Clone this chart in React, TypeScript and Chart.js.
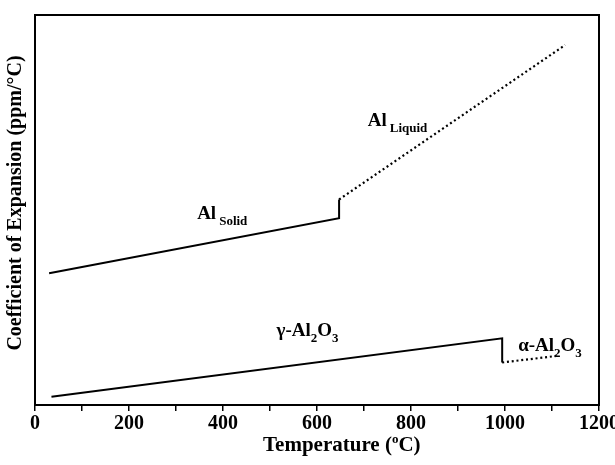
import React, { useEffect, useRef } from "react";
import { Chart, registerables } from "chart.js";

Chart.register(...registerables);

// Series values (temperature in °C, relative coefficient of expansion)
const tempSolid = [30, 647, 647];
const valSolid = [33.8, 47.9, 52.7];
const tempLiquid = [647, 1128];
const valLiquid = [52.7, 92.3];
const tempGamma = [35, 994, 994];
const valGamma = [2.1, 17.1, 10.9];
const tempAlpha = [994, 1111];
const valAlpha = [10.9, 12.6];

// X axis ticks
const xMin = 0;
const xMax = 1200;
const xStep = 100;
const xLabelStep = 200;

// Annotation labels: [text parts], anchor temperature, anchor value
const labelParts: [string, boolean][][] = [
  [["Al", false], ["Solid", true]],
  [["Al", false], ["Liquid", true]],
  [["γ-Al", false], ["2", true], ["O", false], ["3", true]],
  [["α-Al", false], ["2", true], ["O", false], ["3", true]],
];
const labelTemps = [345, 708, 514, 1028];
const labelVals = [47.7, 71.5, 17.7, 13.8];

const xTitleParts: [string, boolean][] = [["Temperature (", false], ["o", true], ["C)", false]];
const yTitle = "Coefficient of Expansion (ppm/°C)";

const FONT = '"Liberation Serif", "Times New Roman", serif';

const pts = (xs: number[], ys: number[]) => xs.map((x, i) => ({ x, y: ys[i] }));

export default function App() {
  const ref = useRef<HTMLCanvasElement | null>(null);
  useEffect(() => {
    if (!ref.current) return;
    const overlay = {
      id: "overlay",
      afterDraw(chart: any) {
        const ctx = chart.ctx;
        const a = chart.chartArea;
        const xs = chart.scales.x;
        const ys = chart.scales.y;
        ctx.save();
        ctx.strokeStyle = "#000";
        ctx.lineWidth = 2;
        ctx.strokeRect(a.left, a.top, a.right - a.left, a.bottom - a.top);
        ctx.fillStyle = "#000";
        ctx.textBaseline = "alphabetic";
        ctx.textAlign = "left";
        // annotations
        labelParts.forEach((parts, i) => {
          let x = xs.getPixelForValue(labelTemps[i]);
          const y = ys.getPixelForValue(labelVals[i]);
          parts.forEach(([t, sub]) => {
            ctx.font = sub ? `bold 13px ${FONT}` : `bold 19px ${FONT}`;
            ctx.fillText(t, x, sub ? y + 6 : y);
            x += ctx.measureText(t).width + (!sub && parts.length === 2 ? 3 : 0);
          });
        });
        // x title
        let tx = 263;
        const ty = 451;
        xTitleParts.forEach(([t, sup]) => {
          ctx.font = sup ? `bold 13px ${FONT}` : `bold 21px ${FONT}`;
          ctx.fillText(t, tx, sup ? ty - 8 : ty);
          tx += ctx.measureText(t).width;
        });
        // y title
        ctx.translate(21, 203);
        ctx.rotate(-Math.PI / 2);
        ctx.textAlign = "center";
        ctx.font = `bold 20px ${FONT}`;
        ctx.fillText(yTitle, 0, 0);
        ctx.restore();
      },
    };
    const chart = new Chart(ref.current, {
      type: "scatter",
      data: {
        datasets: [
          { data: pts(tempSolid, valSolid), showLine: true, borderColor: "#000", borderWidth: 2, pointRadius: 0 },
          { data: pts(tempLiquid, valLiquid), showLine: true, borderColor: "#000", borderWidth: 2.2, borderDash: [2, 2.8], pointRadius: 0 },
          { data: pts(tempGamma, valGamma), showLine: true, borderColor: "#000", borderWidth: 2, pointRadius: 0 },
          { data: pts(tempAlpha, valAlpha), showLine: true, borderColor: "#000", borderWidth: 2.2, borderDash: [2, 2.8], pointRadius: 0 },
        ],
      },
      options: {
        animation: false,
        responsive: true,
        maintainAspectRatio: false,
        layout: { padding: { top: 15, right: 16, left: 0, bottom: 0 } },
        plugins: { legend: { display: false }, tooltip: { enabled: false } },
        scales: {
          x: {
            type: "linear",
            min: xMin,
            max: xMax,
            border: { display: false },
            grid: { drawOnChartArea: false, drawTicks: true, tickLength: 6, color: "#000", lineWidth: 1.5 },
            ticks: {
              stepSize: xStep,
              color: "#000",
              font: { family: FONT, size: 20, weight: "bold" },
              padding: 1,
              maxRotation: 0,
              autoSkip: false,
              callback: (v: any) => (Number(v) % xLabelStep === 0 ? String(v) : ""),
            },
            afterFit: (s: any) => { s.height = 60; s.paddingLeft = 0; s.paddingRight = 0; },
          },
          y: {
            type: "linear",
            min: 0,
            max: 100,
            border: { display: false },
            grid: { display: false },
            ticks: { display: false },
            afterFit: (s: any) => { s.width = 35; },
          },
        },
      },
      plugins: [overlay],
    } as any);
    return () => chart.destroy();
  }, []);
  return (
    <div style={{ position: "fixed", left: 0, top: 0, width: 615, height: 465, background: "#fff" }}>
      <canvas ref={ref} />
    </div>
  );
}
